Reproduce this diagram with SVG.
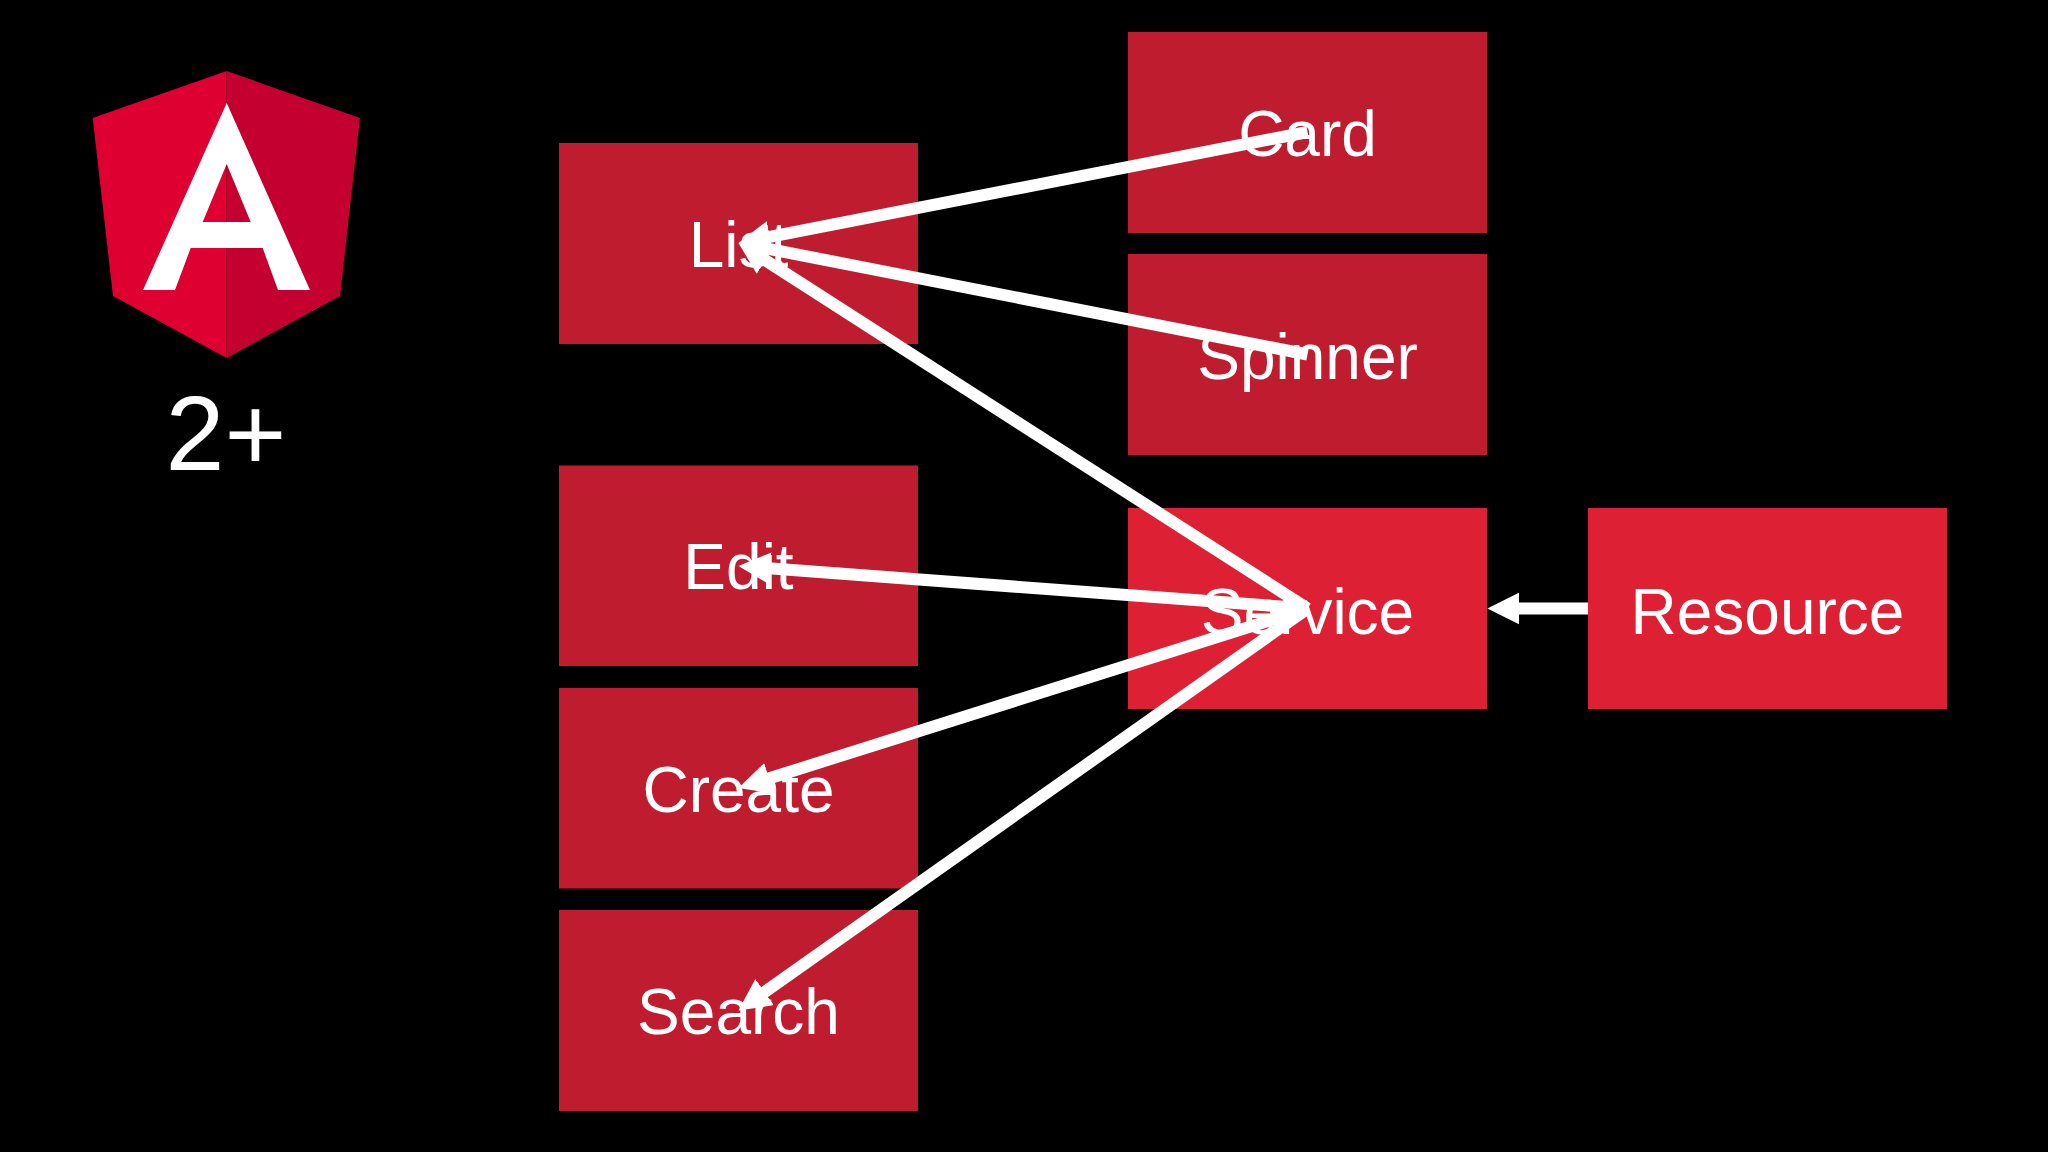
<svg xmlns="http://www.w3.org/2000/svg" width="2048" height="1152" viewBox="0 0 2048 1152">
<style>
.n{fill:#C01C30}
.s{fill:#DE2034}
text{font-family:"Liberation Sans",Arial,sans-serif;fill:#fff;text-anchor:middle;font-size:64px}
.c{stroke:#fff;stroke-width:12;fill:none;marker-end:url(#h)}
</style>
<defs>
<marker id="h" markerUnits="userSpaceOnUse" markerWidth="32" markerHeight="32" refX="12" refY="16" orient="auto"><path d="M0,0L32,16L0,32Z" fill="#fff"/></marker>
</defs>
<rect width="2048" height="1152" fill="#000"/>
<g id="logo">
<path d="M226.7,71L92.7,118L113,296L226.7,358Z" fill="#DD0031"/>
<path d="M226.7,71L360,118L340,296L226.7,358Z" fill="#C3002F"/>
<path fill-rule="evenodd" fill="#fff" d="M226.7,103L143,290L175,290L190.7,248L262.7,248L278,290L310,290ZM226.7,164L202.7,222L250.7,222Z"/>
<text x="226" y="470" style="font-size:106px">2+</text>
</g>
<g id="list"><rect class="n" x="559" y="143" width="359" height="201"/><text x="738.5" y="267">List</text></g>
<g id="edit"><rect class="n" x="559" y="465.5" width="359" height="200.5"/><text x="738.5" y="589.3">Edit</text></g>
<g id="create"><rect class="n" x="559" y="688" width="359" height="200.5"/><text x="738.5" y="812.3">Create</text></g>
<g id="search"><rect class="n" x="559" y="910" width="359" height="201"/><text x="738.5" y="1034.3">Search</text></g>
<g id="card"><rect class="n" x="1128" y="32" width="359" height="201"/><text x="1307.5" y="156">Card</text></g>
<g id="spinner"><rect class="n" x="1128" y="254" width="359" height="201"/><text x="1307.5" y="378.8">Spinner</text></g>
<g id="service"><rect class="s" x="1128" y="508" width="359" height="201"/><text x="1307.5" y="633.8">Service</text></g>
<g id="resource"><rect class="s" x="1588" y="508" width="359" height="201"/><text x="1767.5" y="633.8">Resource</text></g>
<g id="connectors">
<line class="c" x1="1307.5" y1="132" x2="758.1" y2="239.2"/>
<line class="c" x1="1307.5" y1="354.5" x2="758.1" y2="246.8"/>
<line class="c" x1="1307.5" y1="608.5" x2="755.3" y2="253.8"/>
<line class="c" x1="1307.5" y1="608.5" x2="758.4" y2="567.5"/>
<line class="c" x1="1307.5" y1="608.5" x2="757.6" y2="782"/>
<line class="c" x1="1307.5" y1="608.5" x2="754.8" y2="999"/>
<line class="c" x1="1588" y1="608.5" x2="1507.4" y2="608.5"/>
</g>
</svg>
